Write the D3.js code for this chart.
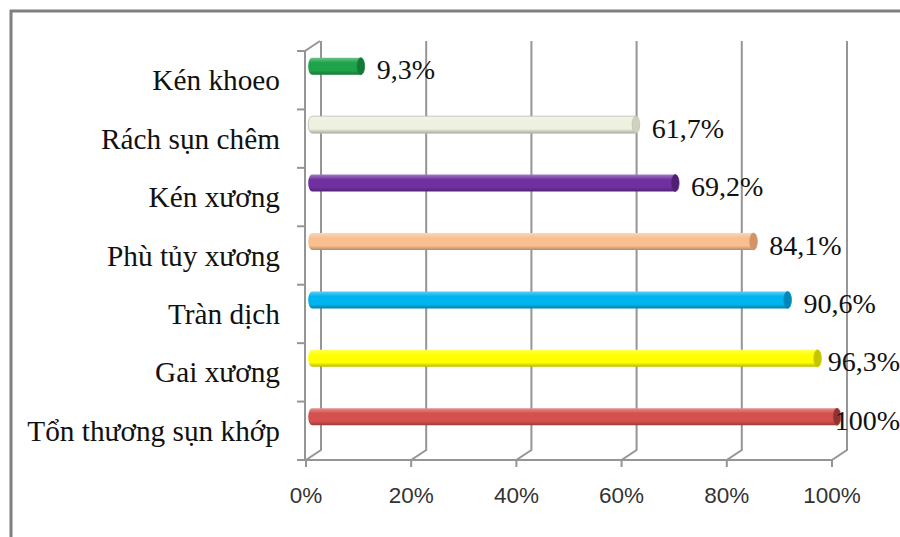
<!DOCTYPE html>
<html>
<head>
<meta charset="utf-8">
<script src="https://cdn.jsdelivr.net/npm/d3@7"></script>
<style>
  html, body { margin: 0; padding: 0; background: #fff; }
  svg { display: block; }
</style>
</head>
<body>
<svg id="chart" width="900" height="537"></svg>
<script>
// Lesion categories, top to bottom
const categories = [
  "Kén khoeo",
  "Rách sụn chêm",
  "Kén xương",
  "Phù tủy xương",
  "Tràn dịch",
  "Gai xương",
  "Tổn thương sụn khớp"
];
// Share of patients (%)
const values = [9.3, 61.7, 69.2, 84.1, 90.6, 96.3, 100];
// Value labels as printed
const valueLabels = ["9,3%", "61,7%", "69,2%", "84,1%", "90,6%", "96,3%", "100%"];
// Cylinder colours: body, end cap
const barColors = ["#1fa34a", "#eef0e0", "#7030a0", "#f9bf8f", "#00b4ef", "#ffff00", "#d4514e"];
const capColors = ["#137a35", "#cfd2bf", "#4e1f73", "#d39366", "#0087b5", "#c4c400", "#8f3331"];
// Horizontal axis ticks
const xTicks = [0, 20, 40, 60, 80, 100];
const xTickLabels = ["0%", "20%", "40%", "60%", "80%", "100%"];

const W = 900, H = 537;
const svg = d3.select("#chart");

// Front plane of the 3D box, plus depth offset to the back wall
const floorY = 460, topY = 51;
const depthX = 15, depthY = -10;
const x = d3.scaleLinear().domain([0, 100]).range([306, 832]);
const y = d3.scaleBand().domain(categories).range([topY, floorY]);
// Cylinders sit partway into the depth of the box
const xb = d3.scaleLinear().domain([0, 100]).range([312, 837]);
const barR = 8.5, capRx = 3.8, barLift = -14;

// Outer frame (top and left edges)
svg.append("line").attr("x1", 10).attr("y1", 11).attr("x2", W).attr("y2", 11)
  .attr("stroke", "#7f7f7f").attr("stroke-width", 3);
svg.append("line").attr("x1", 11).attr("y1", 10).attr("x2", 11).attr("y2", H)
  .attr("stroke", "#7f7f7f").attr("stroke-width", 3);

const gridColor = "#959595";
const grid = svg.append("g").attr("stroke", gridColor).attr("stroke-width", 2).attr("fill", "none");

// Back-wall gridlines, floor connectors and front ticks
xTicks.forEach(t => {
  const fx = x(t), bx = x(t) + depthX;
  grid.append("path").attr("d",
    `M${bx},${topY + depthY} L${bx},${floorY + depthY} L${fx},${floorY} L${fx},${floorY + 7}`);
});
// Front floor edge
grid.append("line").attr("x1", x(0)).attr("x2", x(100)).attr("y1", floorY).attr("y2", floorY);
// Vertical (category) axis with its top connector
const ax = x(0) - 1;
grid.append("path").attr("d",
  `M${ax + depthX},${topY + depthY} L${ax},${topY} L${ax},${floorY}`);
// Category tick marks on band boundaries
categories.forEach(c => {
  grid.append("line").attr("x1", ax - 8).attr("x2", ax).attr("y1", y(c)).attr("y2", y(c));
});
grid.append("line").attr("x1", ax - 8).attr("x2", ax).attr("y1", floorY).attr("y2", floorY);

// Axis tick labels
svg.append("g").selectAll("text").data(xTicks).join("text")
  .attr("x", d => x(d)).attr("y", 503)
  .attr("text-anchor", "middle")
  .attr("font-family", "'Liberation Sans', Arial, sans-serif")
  .attr("font-size", 22.5).attr("fill", "#333")
  .text((d, i) => xTickLabels[i]);

// Category labels
svg.append("g").selectAll("text").data(categories).join("text")
  .attr("x", 280).attr("y", d => y(d) + y.bandwidth() / 2 + 10)
  .attr("text-anchor", "end")
  .attr("font-family", "'Liberation Serif', 'Times New Roman', serif")
  .attr("font-size", 29.3).attr("fill", "#111")
  .text(d => d);

// Cylinder shading gradients
const defs = svg.append("defs");
barColors.forEach((c, i) => {
  const base = d3.color(c);
  const g = defs.append("linearGradient").attr("id", "cyl" + i)
    .attr("x1", 0).attr("y1", 0).attr("x2", 0).attr("y2", 1);
  g.append("stop").attr("offset", "0%").attr("stop-color", d3.interpolateRgb(c, "#fff")(0.35));
  g.append("stop").attr("offset", "30%").attr("stop-color", c);
  g.append("stop").attr("offset", "75%").attr("stop-color", c);
  g.append("stop").attr("offset", "100%").attr("stop-color", base.darker(0.9).formatHex());
});

const bars = svg.append("g");
categories.forEach((c, i) => {
  const cy = y(c) + y.bandwidth() / 2 + barLift;
  const x0 = xb(0), x1 = xb(values[i]);
  const outline = d3.color(barColors[i]).darker(0.6).formatHex();
  const g = bars.append("g");
  // left end and body
  g.append("path")
    .attr("d", `M${x0},${cy - barR} L${x1},${cy - barR} L${x1},${cy + barR} L${x0},${cy + barR}
                A${capRx},${barR} 0 0 1 ${x0},${cy - barR} Z`)
    .attr("fill", `url(#cyl${i})`)
    .attr("stroke", i === 1 ? "#b8baa8" : "none").attr("stroke-width", 0.8);
  // right end cap
  g.append("ellipse")
    .attr("cx", x1).attr("cy", cy).attr("rx", capRx).attr("ry", barR)
    .attr("fill", capColors[i]).attr("stroke", outline).attr("stroke-width", 0.8);
});

// Value labels, kept inside the right edge
const vl = svg.append("g").selectAll("text").data(categories).join("text")
  .attr("y", d => y(d) + y.bandwidth() / 2 + barLift + 13)
  .attr("font-family", "'Liberation Serif', 'Times New Roman', serif")
  .attr("font-size", 28).attr("fill", "#111")
  .text((d, i) => valueLabels[i]);
vl.attr("x", function (d, i) {
  const w = this.getComputedTextLength();
  return Math.min(xb(values[i]) + capRx + 12, W - w);
});
</script>
</body>
</html>
